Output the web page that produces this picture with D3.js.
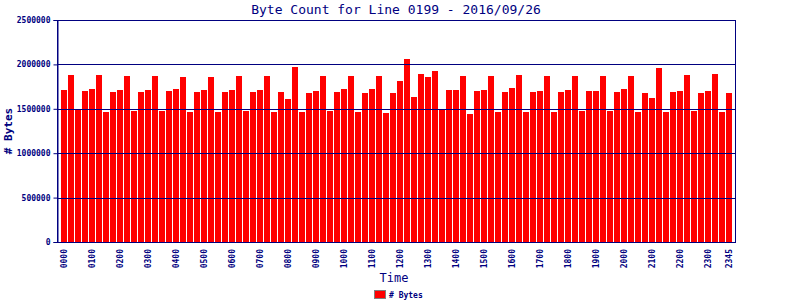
<!DOCTYPE html>
<html><head><meta charset="utf-8">
<script src="https://cdn.jsdelivr.net/npm/d3@7"></script>
<style>body{margin:0;background:#fff}svg{display:block}</style>
</head><body>
<script>
const title = "Byte Count for Line 0199 - 2016/09/26";
const yTicks = [0, 500000, 1000000, 1500000, 2000000, 2500000];
const times = [];
for (let h = 0; h < 24; h++) for (let m = 0; m < 60; m += 15) times.push(String(h).padStart(2,"0") + String(m).padStart(2,"0"));
const xTickLabels = ["0000","0100","0200","0300","0400","0500","0600","0700","0800","0900","1000","1100","1200","1300","1400","1500","1600","1700","1800","1900","2000","2100","2200","2300","2345"];
const bytes = [
 1715000,1880000,1495000,1700000,1720000,1880000,1467000,1690000,1715000,1870000,1480000,1690000,
 1715000,1870000,1480000,1700000,1720000,1860000,1467000,1690000,1715000,1860000,1467000,1690000,
 1715000,1870000,1480000,1690000,1715000,1870000,1467000,1690000,1614000,1970000,1467000,1680000,
 1700000,1870000,1480000,1690000,1720000,1870000,1467000,1680000,1720000,1870000,1456000,1680000,
 1816000,2060000,1633000,1890000,1860000,1926000,1498000,1715000,1715000,1870000,1441000,1700000,
 1715000,1870000,1467000,1690000,1734000,1880000,1467000,1690000,1700000,1870000,1467000,1690000,
 1715000,1870000,1475000,1700000,1700000,1870000,1475000,1690000,1720000,1870000,1467000,1680000,
 1620000,1960000,1467000,1690000,1700000,1880000,1475000,1680000,1700000,1890000,1467000,1680000
];

const W = 800, H = 300;
const navy = "#000080";
const mono = "'DejaVu Sans Mono', 'Liberation Mono', monospace";
const L = 57, R = 735, T = 20, B = 242;

const svg = d3.select("body").append("svg").attr("width", W).attr("height", H);
svg.append("rect").attr("width", W).attr("height", H).attr("fill", "#fff");

const x = d3.scaleBand().domain(times).range([61, 732]).paddingInner(1/7).paddingOuter(0);
const y = d3.scaleLinear().domain([0, 2500000]).range([B, T]);

// bars
svg.append("g").selectAll("rect").data(bytes).join("rect")
  .attr("x", (d,i) => Math.round(x(times[i])))
  .attr("width", 6)
  .attr("y", d => Math.round(y(d)))
  .attr("height", d => B - Math.round(y(d)))
  .attr("fill", "#ff0000");

// gridlines over bars
svg.append("g").selectAll("line").data(yTicks.filter(v => v > 0 && v < 2500000)).join("line")
  .attr("x1", L).attr("x2", R)
  .attr("y1", d => Math.round(y(d)) + 0.5).attr("y2", d => Math.round(y(d)) + 0.5)
  .attr("stroke", navy).attr("stroke-width", 1);

// frame
svg.append("rect").attr("x", L + 0.5).attr("y", T + 0.5).attr("width", R - L).attr("height", B - T)
  .attr("fill", "none").attr("stroke", navy).attr("stroke-width", 1);

// y axis
const yAxis = d3.axisLeft(y).tickValues(yTicks).tickSize(4).tickPadding(3).tickFormat(d3.format("d"));
const gy = svg.append("g").attr("transform", `translate(${L + 0.5},0)`).call(yAxis);
gy.select(".domain").attr("stroke", navy);
gy.selectAll(".tick line").attr("stroke", navy);
gy.selectAll(".tick text").attr("fill", navy).attr("font-family", mono).attr("font-size", 8).attr("font-weight", "bold");

// x axis
const xAxis = d3.axisBottom(x).tickValues(xTickLabels).tickSize(0).tickPadding(0);
const gx = svg.append("g").attr("transform", `translate(0,${B})`).call(xAxis);
gx.select(".domain").remove();
gx.selectAll(".tick text")
  .attr("fill", navy).attr("font-family", mono).attr("font-size", 8).attr("font-weight", "bold")
  .attr("transform", "rotate(-90)")
  .attr("text-anchor", "end")
  .attr("dy", "0.35em")
  .attr("x", -7).attr("y", 0);

// title
svg.append("text").attr("x", 396).attr("y", 14).attr("text-anchor", "middle")
  .attr("font-family", mono).attr("font-size", 13).attr("fill", navy).text(title);

// axis titles
svg.append("text").attr("transform", "translate(12,131) rotate(-90)").attr("text-anchor", "middle")
  .attr("font-family", mono).attr("font-size", 11).attr("font-weight", "bold").attr("fill", navy).text("# Bytes");
svg.append("text").attr("x", 394).attr("y", 282).attr("text-anchor", "middle")
  .attr("font-family", mono).attr("font-size", 12).attr("fill", navy).text("Time");

// legend
svg.append("rect").attr("x", 374.5).attr("y", 290.5).attr("width", 11).attr("height", 8)
  .attr("fill", "#ff0000").attr("stroke", "#808080");
svg.append("text").attr("x", 389).attr("y", 298)
  .attr("font-family", mono).attr("font-size", 8).attr("font-weight", "bold").attr("fill", navy).text("# Bytes");
</script>
</body></html>
